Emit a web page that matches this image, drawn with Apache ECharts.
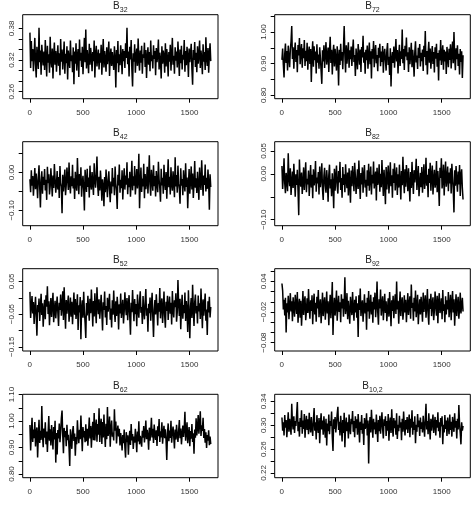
<!DOCTYPE html>
<html lang="en">
<head>
  <meta charset="UTF-8" />
  <title>Trace plots</title>
  <script src="https://cdn.jsdelivr.net/npm/echarts@6.0.0/dist/echarts.min.js"></script>
  <style>
    html, body { margin: 0; padding: 0; background: #fff; }
    #chart { width: 476px; height: 508px; }
  </style>
</head>
<body>
  <div id="chart"></div>
  <script>
    // chain length, values below are thinned draws (x1000)
    const nIter = 1700;
    const xTicks = [0, 500, 1000, 1500];

    const b32 = [
      372, 305, 356, 318, 341, 299, 330, 362, 312, 287, 345, 321, 303, 381, 316, 338, 292, 349, 327, 310,
      336, 301, 358, 323, 289, 347, 315, 331, 296, 364, 320, 306, 342, 285, 329, 353, 311, 337, 298, 325,
      348, 309, 333, 291, 360, 317, 340, 302, 326, 355, 294, 332, 314, 346, 283, 338, 321, 305, 357, 318,
      329, 297, 344, 274, 336, 313, 352, 300, 327, 341, 288, 359, 319, 334, 307, 345, 293, 330, 362, 316,
      378, 304, 339, 322, 295, 351, 311, 343, 326, 299, 335, 318, 357, 287, 331, 347, 308, 324, 340, 302,
      333, 315, 349, 292, 328, 360, 306, 337, 321, 298, 344, 312, 330, 355, 290, 326, 342, 309, 335, 319,
      301, 346, 323, 268, 339, 314, 356, 297, 331, 310, 348, 327, 293, 341, 318, 337, 305, 352, 324, 381,
      312, 336, 289, 345, 321, 358, 303, 270, 333, 317, 350, 296, 328, 342, 309, 361, 320, 300, 338, 315,
      347, 294, 331, 324, 353, 307, 339, 286, 326, 344, 311, 335, 299, 357, 318, 329, 304, 348, 322, 337,
      291, 343, 316, 330, 359, 302, 334, 320, 285, 346, 313, 338, 327, 296, 352, 308, 341, 323, 289, 335,
      317, 349, 300, 331, 362, 311, 328, 294, 344, 319, 336, 306, 355, 325, 290, 340, 314, 347, 302, 330,
      321, 358, 298, 337, 310, 345, 326, 288, 342, 316, 332, 351, 303, 273, 339, 320, 354, 307, 334, 297,
      346, 313, 329, 357, 305, 338, 322, 293, 350, 317, 335, 301, 363, 324, 309, 343, 296, 331, 352, 318
    ];
    const b72 = [
      912, 948, 896, 856, 931, 964, 902, 940, 878, 957, 921, 889, 945, 970, 1019, 915, 952, 884, 938, 967,
      905, 943, 873, 959, 926, 981, 898, 936, 962, 887, 949, 917, 975, 893, 941, 908, 966, 881, 932, 954,
      899, 946, 842, 928, 971, 890, 955, 911, 938, 869, 961, 903, 929, 884, 952, 918, 877, 836, 942, 907,
      958, 886, 934, 968, 897, 923, 951, 874, 939, 985, 902, 944, 866, 930, 960, 891, 947, 913, 878, 955,
      921, 831, 944, 896, 963, 909, 937, 882, 951, 1019, 926, 872, 958, 900, 933, 968, 887, 942, 914, 954,
      893, 939, 976, 905, 927, 861, 948, 918, 882, 962, 930, 897, 945, 874, 953, 920, 988, 903, 936, 868,
      944, 911, 957, 884, 925, 967, 898, 939, 853, 946, 916, 972, 889, 934, 959, 901, 927, 876, 950, 919,
      963, 892, 938, 905, 956, 871, 929, 947, 910, 878, 941, 965, 896, 922, 864, 949, 828, 915, 937, 902,
      954, 887, 931, 978, 907, 943, 869, 925, 960, 893, 939, 915, 1008, 901, 946, 880, 957, 923, 983, 911,
      936, 874, 952, 898, 929, 966, 889, 944, 913, 859, 937, 971, 904, 926, 883, 950, 918, 962, 891, 934,
      908, 945, 877, 957, 921, 1003, 895, 940, 866, 931, 969, 903, 948, 884, 925, 956, 899, 937, 872, 952,
      916, 963, 890, 934, 847, 942, 910, 975, 896, 929, 958, 881, 944, 907, 938, 867, 953, 920, 889, 947,
      912, 961, 885, 936, 970, 901, 1000, 923, 879, 949, 914, 958, 893, 931, 866, 946, 905, 939, 855, 927
    ];
    const b42 = [
      -18, -52, 6, -35, -9, -61, -24, 12, -44, -3, -30, -68, -14, 19, -39, -92, -21, 3, -56, -11,
      -33, 9, -47, -19, -72, 15, -28, -5, -58, -37, 11, -25, -63, -8, -41, 22, -16, -53, -30, 4,
      -45, -12, -67, 17, -27, -38, -107, -6, -50, -22, 8, -60, -33, 13, -17, -46, 26, -29, -55, -10,
      -36, 20, -42, -15, -70, 2, -31, -48, 38, -20, -57, -4, -35, 14, -64, -26, -9, -43, -100, 7,
      -23, -51, 10, -38, -13, -66, 18, -30, -45, 1, -28, -59, 24, -16, -40, -7, 42, -33, -62, -11,
      -47, 5, -26, -74, -18, -36, -89, -12, -52, 8, -31, -65, -20, 3, -43, -78, -24, -55, 12, -37,
      -14, -60, 16, -29, -49, -96, -6, -34, 21, -53, -19, -41, 6, -71, -25, 11, -45, -8, -32, 27,
      -57, -15, -39, 2, -64, -22, 31, -47, -10, -35, 17, -58, -27, 9, -42, -19, 49, -94, -30, 13,
      -51, -16, -37, 23, -68, -4, -44, -26, 15, -55, -12, 45, -33, -61, 7, -21, -48, 19, -36, -9,
      -63, 4, -29, -52, 28, -18, -41, -77, 10, -34, -14, -56, 20, -25, -46, 1, -69, -20, 35, -39,
      -11, -58, 14, -31, -48, 3, -24, -65, 40, -37, -7, -53, 18, -28, -43, -82, 11, -35, -17, -60,
      6, -27, -50, 24, -38, -13, -94, -32, 9, -56, -21, 16, -45, -3, -67, -29, 30, -40, -15, -54,
      2, -36, -72, 13, -25, -46, 32, -19, -61, -8, -33, 21, -50, -14, -43, 8, -28, -98, -5, -38
    ];
    const b82 = [
      17, -33, -4, 34, -21, -42, 2, -15, -38, 45, -9, -27, 12, -46, -18, 5, -31, 22, -12, -50,
      -1, -24, 9, -36, -90, 31, -14, -28, 3, -44, -19, 14, -35, -6, 25, -40, -11, -23, 7, -48,
      -16, 19, -30, -2, -53, 10, -25, -13, 28, -39, -8, -21, 4, -45, 16, -29, -10, 23, -34, -57,
      -5, 13, -26, -41, 8, -17, -61, -3, 20, -32, -12, -49, 1, -22, -75, 11, -37, -7, 18, -28,
      -43, 6, -19, 26, -35, -9, -52, 15, -24, -1, -40, 21, -14, -31, 3, -47, 12, -20, -63, 7,
      -27, 17, -11, -38, 24, -6, -44, -18, 10, -33, 29, -15, -55, 2, -23, 14, -41, -4, 19, -30,
      -13, -50, 8, -26, 22, -37, -8, 16, -45, -2, -21, 27, -32, -10, 5, -58, 13, -24, -16, 21,
      -39, 0, -29, 30, -12, -48, 9, -22, -66, 15, -34, -7, 18, -43, -14, 25, -27, -3, -52, 11,
      -20, 23, -36, -9, 14, -46, -1, -30, 20, -17, -56, 6, -25, 37, -12, -42, 10, -28, 19, -5,
      -38, 12, -23, -60, 4, -31, 26, -15, -44, 8, -19, -3, 33, -35, -10, 17, -49, -22, 2, -29,
      15, -41, -8, 21, -33, -14, 35, -26, -2, -51, 11, -20, 24, -37, -6, 18, -45, -12, 9, -30,
      -18, 28, -40, 6, -24, -70, 13, -9, 34, -32, -15, 20, -47, -4, 27, -28, -11, 16, -38, 3,
      -21, 12, -43, 22, -7, -35, -84, 8, -26, 17, -14, -39, 5, -23, 19, -48, -2, 10, -31, -56
    ];
    const b52 = [
      18, -62, -25, 5, -48, -13, -80, -35, 3, -57, -116, -22, -44, -2, -71, -30, 12, -53, -17, -89,
      -38, -6, -66, 8, -27, 35, -50, -11, -84, -33, -1, -59, -20, 15, -75, -41, -9, -63, -28, 4,
      -46, -86, -15, -37, 10, -55, -24, 20, -68, 32, -32, -95, -7, -49, -19, 7, -73, -40, 1, -58,
      -12, -81, -29, 16, -52, -4, -65, -36, 11, -99, -23, -45, 2, -127, -31, -8, -61, 18, -42, -76,
      -123, -16, -54, 6, -34, -70, -3, -47, 25, -26, -88, -10, -57, 14, -39, -78, 32, -21, -50, -5,
      -64, -30, 9, -45, -100, -14, -37, 19, -60, -25, -83, 0, -43, -18, 12, -67, -33, -91, -8, -52,
      22, -39, -74, -11, -56, 3, -29, -97, -20, -48, 13, -62, -35, -6, -79, -42, 17, -27, -53, -1,
      -69, -23, 8, -58, -113, -15, -44, 24, -31, -72, -4, -50, -19, -87, 10, -36, -61, -9, 20, -46,
      -28, -80, 5, -41, -66, -13, 27, -55, -32, -104, -18, -47, 1, -70, -24, 15, -59, -120, -38, -7,
      -51, 11, -30, -85, -16, -43, 30, -63, -21, -2, -77, -35, 19, -54, -92, -12, -40, 6, -68, -26,
      4, -49, -15, -82, 21, -37, -60, -8, -29, 14, -73, -44, 54, -19, -56, -3, -96, -33, 9, -64,
      -22, -47, 16, -71, -10, -38, -105, 23, -53, -124, -27, -1, -62, 40, -34, -86, -14, 10, -48, -25,
      -79, 7, -42, -17, -65, 28, -31, -93, -5, -55, -20, 13, -70, -36, -114, -11, -45, 3, -60, -28
    ];
    const b92 = [
      36, 22, -15, 4, -27, 8, -60, -3, -21, 12, -34, -8, 17, -19, 1, -38, 9, -12, -29, 14,
      -5, -24, 19, -41, -9, 6, -31, 2, -47, -14, 21, -26, -1, 11, -36, -17, 7, -22, 25, -11,
      -33, 3, -18, 13, -44, -6, 16, -25, -2, -39, 10, -13, 23, -30, -7, 5, -42, -16, 18, -28,
      -4, 9, -35, -12, 20, -23, 1, -46, -10, 14, -32, -3, 39, -65, -15, 8, -27, -6, 22, -37,
      -9, 12, -20, -1, -40, 15, -13, 6, -29, -5, 48, -24, -11, 17, -34, 2, -18, -43, 10, -8,
      -26, 19, -14, -37, 4, -21, 11, -31, -3, -69, 13, -16, 26, -28, -7, 3, -39, -12, 15, -23,
      -2, -55, 8, -19, 21, -33, -10, 14, -25, 0, -41, 9, -15, 18, -30, -6, 40, -20, -45, 5,
      -13, 24, -27, -4, 11, -36, -9, 16, -22, 1, -38, -14, 7, -29, 19, -11, -48, 3, -18, 12,
      -32, -6, 15, -24, 40, -15, 2, -43, -8, 20, -28, -1, 9, -35, -17, 13, -21, 4, -40, -10,
      17, -26, -5, 11, -33, 34, -12, -2, -37, 8, -19, 22, -30, -8, 14, -44, -15, 5, -25, 10,
      -11, -39, 18, -20, -3, 13, -31, -9, 25, -24, -45, 6, -14, 16, -28, -4, 9, -36, -17, 20,
      -7, -27, 12, -42, -1, 17, -22, -12, 7, -34, 23, -18, -5, -40, 11, -25, 3, -15, 19, -30,
      -8, 14, -36, -2, 21, -21, 5, -47, -10, 15, -28, -4, 10, -33, -13, 18, -23, -6, 8, -19
    ];
    const b62 = [
      985, 889, 952, 1012, 921, 968, 935, 996, 904, 958, 976, 862, 943, 1005, 917, 963, 929, 1057, 948, 901,
      972, 937, 995, 912, 960, 883, 951, 1019, 926, 969, 908, 985, 942, 893, 977, 930, 1001, 843, 955, 874,
      966, 934, 991, 920, 957, 1010, 1040, 945, 878, 974, 939, 962, 905, 986, 928, 948, 899, 830, 969, 936,
      895, 958, 981, 925, 953, 869, 940, 912, 1003, 948, 916, 967, 931, 1021, 953, 886, 977, 938, 962, 920,
      988, 924, 971, 907, 959, 1013, 934, 981, 899, 963, 997, 928, 1030, 927, 975, 1006, 922, 989, 948, 1048,
      921, 984, 1009, 913, 996, 938, 1025, 957, 902, 990, 931, 1053, 944, 968, 1017, 903, 973, 1002, 941, 956,
      927, 1044, 964, 998, 915, 960, 983, 942, 971, 908, 955, 930, 889, 947, 916, 968, 901, 862, 958, 920,
      946, 873, 932, 963, 910, 989, 927, 951, 895, 941, 918, 971, 934, 882, 960, 923, 999, 912, 944, 928,
      903, 963, 937, 981, 919, 952, 1002, 931, 967, 944, 892, 975, 926, 958, 1012, 938, 971, 917, 987, 949,
      929, 965, 906, 980, 943, 1008, 921, 961, 938, 995, 914, 955, 982, 935, 969, 927, 853, 953, 991, 924,
      964, 936, 1001, 918, 957, 979, 941, 896, 968, 930, 986, 947, 921, 963, 1004, 935, 972, 912, 950, 983,
      940, 971, 1035, 926, 958, 995, 916, 948, 977, 905, 962, 933, 989, 921, 954, 877, 968, 937, 1010, 946,
      975, 1023, 952, 990, 1037, 944, 984, 963, 1012, 936, 970, 918, 958, 898, 947, 926, 965, 909, 941, 913
    ];
    const b102 = [
      313, 291, 305, 283, 317, 296, 309, 280, 301, 322, 289, 311, 298, 284, 336, 304, 293, 315, 287, 307,
      299, 318, 339, 290, 306, 281, 312, 297, 325, 286, 308, 294, 319, 279, 303, 316, 292, 310, 285, 321,
      300, 288, 314, 296, 282, 309, 329, 291, 305, 276, 317, 298, 287, 312, 270, 302, 320, 293, 308, 284,
      315, 297, 279, 311, 266, 303, 290, 318, 285, 307, 299, 323, 281, 257, 310, 294, 314, 288, 302, 319,
      331, 292, 306, 283, 316, 298, 273, 309, 287, 321, 263, 300, 313, 290, 305, 278, 318, 296, 285, 311,
      302, 324, 289, 307, 280, 315, 295, 310, 284, 319, 298, 271, 306, 292, 317, 286, 303, 267, 312, 294,
      299, 320, 283, 308, 236, 297, 314, 288, 326, 301, 279, 311, 293, 305, 285, 318, 296, 272, 309, 290,
      316, 286, 303, 322, 294, 278, 310, 299, 315, 282, 307, 291, 319, 274, 302, 313, 287, 327, 298, 281,
      312, 295, 308, 284, 320, 277, 301, 290, 316, 296, 305, 275, 311, 289, 323, 299, 283, 309, 293, 314,
      287, 303, 318, 280, 311, 296, 325, 284, 306, 292, 315, 270, 301, 289, 319, 297, 308, 282, 313, 294,
      305, 288, 316, 299, 281, 310, 336, 293, 307, 285, 320, 298, 276, 311, 291, 304, 318, 287, 300, 314,
      283, 309, 296, 322, 290, 305, 279, 312, 298, 315, 268, 301, 288, 317, 294, 308, 282, 313, 299, 285,
      318, 292, 306, 281, 314, 300, 289, 320, 296, 307, 278, 311, 293, 334, 302, 287, 268, 305, 291, 299
    ];

    // y tick marks and labelled ticks per panel
    const b32Ticks = [0.26, 0.28, 0.30, 0.32, 0.34, 0.36, 0.38];
    const b32Labels = [0.26, 0.32, 0.38];
    const b72Ticks = [0.80, 0.85, 0.90, 0.95, 1.00, 1.05];
    const b72Labels = [0.80, 0.90, 1.00];
    const b42Ticks = [-0.10, -0.05, 0.00, 0.05];
    const b42Labels = [-0.10, 0.00];
    const b82Ticks = [-0.10, -0.05, 0.00, 0.05];
    const b82Labels = [-0.10, 0.00, 0.05];
    const b52Ticks = [-0.15, -0.10, -0.05, 0.00, 0.05];
    const b52Labels = [-0.15, -0.05, 0.05];
    const b92Ticks = [-0.08, -0.06, -0.04, -0.02, 0.00, 0.02, 0.04, 0.06];
    const b92Labels = [-0.08, -0.02, 0.04];
    const b62Ticks = [0.80, 0.85, 0.90, 0.95, 1.00, 1.05, 1.10];
    const b62Labels = [0.80, 0.90, 1.00, 1.10];
    const b102Ticks = [0.22, 0.24, 0.26, 0.28, 0.30, 0.32, 0.34];
    const b102Labels = [0.22, 0.26, 0.30, 0.34];

    const panels = [
      { sub: '32', values: b32, ticks: b32Ticks, labels: b32Labels, min: 0.2467, max: 0.406 },
      { sub: '72', values: b72, ticks: b72Ticks, labels: b72Labels, min: 0.789, max: 1.055 },
      { sub: '42', values: b42, ticks: b42Ticks, labels: b42Labels, min: -0.140, max: 0.081 },
      { sub: '82', values: b82, ticks: b82Ticks, labels: b82Labels, min: -0.113, max: 0.070 },
      { sub: '52', values: b52, ticks: b52Ticks, labels: b52Labels, min: -0.163, max: 0.089 },
      { sub: '92', values: b92, ticks: b92Ticks, labels: b92Labels, min: -0.0965, max: 0.065 },
      { sub: '62', values: b62, ticks: b62Ticks, labels: b62Labels, min: 0.786, max: 1.101 },
      { sub: '10,2', values: b102, ticks: b102Ticks, labels: b102Labels, min: 0.212, max: 0.352 }
    ];

    const font = 'Liberation Sans';
    const colLeft = [22.7, 274.7];
    const colWidth = [195.3, 195.6];
    const rowTop = [14.7, 141.7, 268.7, 394.3];
    const rowHeight = [84, 84, 82.3, 83.4];

    const fmt = v => v.toFixed(2).replace('-', '\u2212');

    const grid = [], xAxis = [], yAxis = [], series = [], title = [];
    panels.forEach((p, i) => {
      const r = Math.floor(i / 2), c = i % 2;
      grid.push({
        left: colLeft[c], top: rowTop[r], width: colWidth[c], height: rowHeight[r],
        show: true, borderColor: '#000', borderWidth: 1, containLabel: false, outerBoundsMode: 'none'
      });
      xAxis.push({
        type: 'value', gridIndex: i, min: -67, max: 1768,
        axisLine: { show: false, onZero: false },
        axisTick: { show: true, length: 4, lineStyle: { color: '#000' }, customValues: xTicks },
        axisLabel: {
          customValues: xTicks, margin: 10, fontSize: 8, color: '#333', fontFamily: font,
          formatter: v => String(v)
        },
        splitLine: { show: false }
      });
      yAxis.push({
        type: 'value', gridIndex: i, min: p.min, max: p.max,
        axisLine: { show: false, onZero: false },
        axisTick: { show: true, length: 4, lineStyle: { color: '#000' }, customValues: p.ticks },
        axisLabel: {
          customValues: p.labels, rotate: 90, margin: 7, fontSize: 8, color: '#333',
          fontFamily: font, formatter: fmt
        },
        splitLine: { show: false }
      });
      series.push({
        type: 'line', xAxisIndex: i, yAxisIndex: i,
        data: p.values.map((v, k) => [1 + k * (nIter - 1) / (p.values.length - 1), v / 1000]),
        symbol: 'none', silent: true,
        lineStyle: { width: 1.5, color: '#000' }
      });
      title.push({
        text: '{b|B}{s|' + p.sub + '}',
        left: colLeft[c] + colWidth[c] / 2, top: rowTop[r] - 15,
        textAlign: 'center', padding: 0,
        textStyle: {
          fontWeight: 'normal',
          rich: {
            b: { fontSize: 10, lineHeight: 14, verticalAlign: 'middle', color: '#222', fontFamily: font, fontWeight: 'normal' },
            s: { fontSize: 7, verticalAlign: 'bottom', color: '#222', fontFamily: font, fontWeight: 'normal' }
          }
        }
      });
    });

    const chart = echarts.init(document.getElementById('chart'));
    chart.setOption({
      animation: false,
      backgroundColor: '#fff',
      title, grid, xAxis, yAxis, series
    });
  </script>
</body>
</html>
